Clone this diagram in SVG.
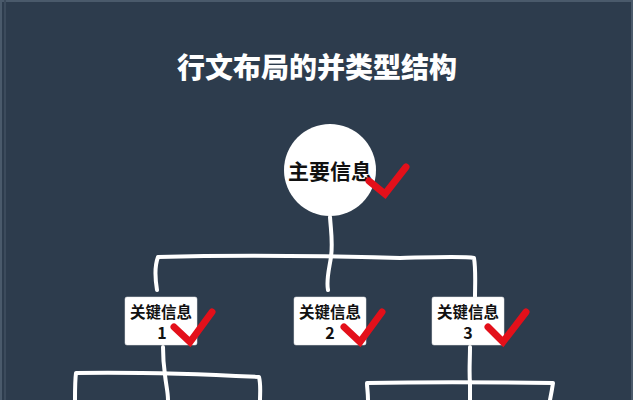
<svg xmlns="http://www.w3.org/2000/svg" width="633" height="400" viewBox="0 0 633 400">
  <style>
    .title { font-family: "Noto Sans CJK SC", "Noto Sans", sans-serif; font-weight: 900; font-size: 28px; fill: #ffffff; }
    .main { font-family: "Noto Sans CJK SC", "Noto Sans", sans-serif; font-weight: bold; font-size: 21px; fill: #111111; }
    .lbl { font-family: "Noto Sans CJK SC", "Noto Sans", sans-serif; font-weight: bold; font-size: 15.5px; fill: #111111; }
    .num { font-family: "Noto Sans CJK SC", "Noto Sans", sans-serif; font-weight: bold; font-size: 16px; fill: #111111; }
    .box { fill: #ffffff; stroke: #e6e6e6; stroke-width: 0.5; }
    .line { fill: none; stroke: #ffffff; stroke-width: 4; stroke-linecap: round; stroke-linejoin: round; }
    .check { fill: none; stroke: #e3101a; stroke-width: 7; stroke-linecap: round; stroke-linejoin: miter; }
  </style>
  <rect x="0" y="0" width="633" height="400" fill="#2d3c4d"/>
  <rect x="1" y="1" width="631" height="410" fill="none" stroke="#4a5a6b" stroke-width="2"/>
  <line x1="5" y1="0" x2="5" y2="400" stroke="#3c4b5c" stroke-width="2"/>

  <text class="title" x="317" y="78" text-anchor="middle">行文布局的并类型结构</text>

  <g id="connectors">
    <path class="line" d="M330,217 C331,232 333,242 331,257 C329,270 326,280 328,290"/>
    <path class="line" d="M157,290 C155,278 155,265 158,257 C230,255 330,256 400,258 C440,257 465,256 474,258 C476,270 475,285 475,297"/>
    <path class="line" d="M163,347 C163,360 164,368 165,375 C166,385 168,392 168,400"/>
    <path class="line" d="M75,400 C75,390 75,380 76,373 C140,372 200,374 259,377 C261,385 260,393 260,400"/>
    <path class="line" d="M470,347 C470,360 469,372 470,383 C470,390 470,396 470,400"/>
    <path class="line" d="M368,400 C368,392 367,388 367,383 C420,382 480,382 553,383 C552,390 551,395 550,400"/>
  </g>

  <g id="main">
    <circle cx="330" cy="170" r="46" fill="#ffffff"/>
    <text class="main" x="330" y="179" text-anchor="middle">主要信息</text>
    <path class="check" d="M369,181 L385,194 L406,167"/>
  </g>

  <g id="key1">
    <rect class="box" x="125" y="297" width="72" height="48" rx="2"/>
    <text class="lbl" x="161" y="318" text-anchor="middle">关键信息</text>
    <text class="num" x="162" y="339" text-anchor="middle">1</text>
    <path class="check" d="M174,327 L190,342 L212,312"/>
  </g>

  <g id="key2">
    <rect class="box" x="294" y="297" width="72" height="48" rx="2"/>
    <text class="lbl" x="330" y="318" text-anchor="middle">关键信息</text>
    <text class="num" x="330" y="339" text-anchor="middle">2</text>
    <path class="check" d="M344,327 L360,342 L382,312"/>
  </g>

  <g id="key3">
    <rect class="box" x="432" y="297" width="72" height="48" rx="2"/>
    <text class="lbl" x="468" y="318" text-anchor="middle">关键信息</text>
    <text class="num" x="468" y="339" text-anchor="middle">3</text>
    <path class="check" d="M488,327 L503,342 L526,312"/>
  </g>
</svg>
